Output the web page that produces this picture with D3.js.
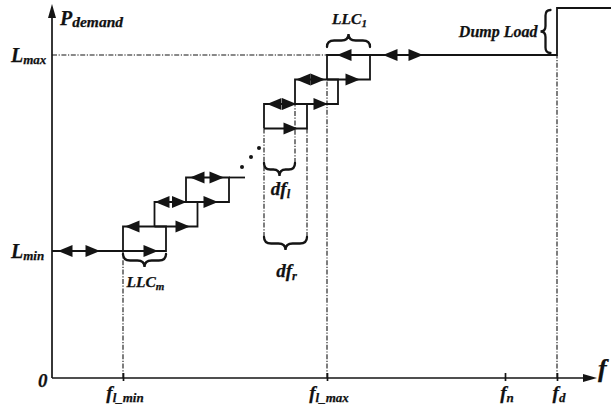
<!DOCTYPE html>
<html>
<head>
<meta charset="utf-8">
<script src="https://cdn.jsdelivr.net/npm/d3@7"></script>
<style>
  html, body { margin: 0; padding: 0; background: #fff; }
  svg { display: block; }
  text { font-family: "Liberation Serif", "Times New Roman", serif; font-weight: bold; font-style: italic; fill: #111; stroke: #111; stroke-width: 0.25px; }
</style>
</head>
<body>
<svg id="chart" width="611" height="410"></svg>
<script>
// ---- data (normalised frequency f, normalised power demand P) ----
const fAxisEnd = 109;          // tip of the frequency axis arrow
const pAxisEnd = 74.8;         // tip of the power axis arrow
const Lmin = 25.4;
const Lmax = 64.6;
const fTicks = [14.2, 55, 90.6, 101];
const fTickSubs = ["l_min", "l_max", "n", "d"];

// hysteresis loops of the load-level controllers (LLC_m ... LLC_1)
const loopStart = [14.2, 20.5, 26.8, 42.4, 48.6, 55.0];
const loopEnd   = [22.8, 29.1, 35.4, 51.0, 57.2, 63.6];
const loopLow   = [25.4, 30.3, 35.2, 49.9, 54.8, 59.7];
const loopHigh  = [30.3, 35.2, 40.1, 54.8, 59.7, 64.6];

// remaining pieces of the demand trace
const traceLead = [[0, 25.4], [14.2, 25.4]];
const traceGap  = [[35.4, 40.1], [38.6, 40.1]];
const traceTop  = [[63.6, 64.6], [101, 64.6], [101, 74], [112, 74]];

// direction arrowheads on the trace (tip position, level, direction)
const arrowF   = [1.2, 9.6, 21.2, 14.6, 27.6, 20.6, 26.9, 33.2, 27.6, 34.4, 49.2, 43.0, 48.9, 55.2, 48.8, 54.6, 61.6, 57.0, 66.2, 74.2];
const arrowP   = [25.4, 25.4, 25.4, 30.3, 30.3, 35.2, 35.2, 35.2, 40.1, 40.1, 49.9, 54.8, 54.8, 54.8, 59.7, 59.7, 59.7, 64.6, 64.6, 64.6];
const arrowDir = [-1, 1, 1, -1, 1, -1, 1, 1, -1, 1, 1, -1, 1, 1, -1, 1, 1, -1, -1, 1];

// dash-dot guide lines (vertical: f, from P0 to P1)
const guideF  = [14.2, 55, 101, 42.4, 51.0, 48.6];
const guideP0 = [0, 0, 0, 28.2, 28.2, 43.0];
const guideP1 = [25.4, 59.7, 64.6, 49.9, 49.9, 54.8];

// ellipsis dots between the lower and upper controllers
const dotF = [38.0, 39.8, 41.4];
const dotP = [42.2, 44.2, 46.0];

// horizontal braces: span, base level, side (+1 above, -1 below)
const braceF0  = [14.2, 55.0, 42.4, 42.4];
const braceF1  = [22.8, 63.6, 48.6, 51.0];
const braceP   = [24.8, 66.2, 43.0, 28.2];
const braceDir = [-1, 1, -1, -1];
const braceMain = ["LLC", "LLC", "df", "df"];
const braceSub  = ["m", "1", "l", "r"];

// dump-load brace (vertical, left of the step)
const dumpF = 99.7;
const dumpP0 = 65.0, dumpP1 = 73.6;

// ---- drawing ----
const svg = d3.select("#chart");
const x = d3.scaleLinear().domain([0, 110]).range([52, 602]);
const y = d3.scaleLinear().domain([0, 74]).range([378, 8]);
const ink = "#141414";
const line = d3.line().x(d => x(d[0])).y(d => y(d[1]));

// dash-dot guides
const dashDot = "5,1.6,1.2,1.6";
svg.append("line")
  .attr("x1", x(0)).attr("x2", x(55)).attr("y1", y(Lmax)).attr("y2", y(Lmax))
  .attr("stroke", ink).attr("stroke-width", 1.1).attr("stroke-dasharray", dashDot);
svg.selectAll("line.guide").data(guideF).join("line")
  .attr("class", "guide")
  .attr("x1", d => x(d)).attr("x2", d => x(d))
  .attr("y1", (d, i) => y(guideP0[i])).attr("y2", (d, i) => y(guideP1[i]))
  .attr("stroke", ink).attr("stroke-width", 1.1).attr("stroke-dasharray", dashDot);

// axes with arrowheads
svg.append("line").attr("x1", x(0)).attr("y1", y(0)).attr("x2", x(0)).attr("y2", y(pAxisEnd) + 10)
  .attr("stroke", ink).attr("stroke-width", 1.7);
svg.append("path")
  .attr("d", `M${x(0)},${y(pAxisEnd)} L${x(0) - 4},${y(pAxisEnd) + 14} L${x(0) + 4},${y(pAxisEnd) + 14} Z`)
  .attr("fill", ink);
svg.append("line").attr("x1", x(0)).attr("y1", y(0)).attr("x2", x(fAxisEnd) - 10).attr("y2", y(0))
  .attr("stroke", ink).attr("stroke-width", 1.7);
svg.append("path")
  .attr("d", `M${x(fAxisEnd)},${y(0)} L${x(fAxisEnd) - 14},${y(0) - 4} L${x(fAxisEnd) - 14},${y(0) + 4} Z`)
  .attr("fill", ink);

// tick marks on the frequency axis
const tickAxis = d3.axisTop(x).tickValues(fTicks).tickSize(8).tickFormat("");
const gTicks = svg.append("g").attr("transform", `translate(0,${y(0) + 3})`).call(tickAxis);
gTicks.select(".domain").remove();
gTicks.selectAll("line").attr("stroke", ink).attr("stroke-width", 1.7);

// hysteresis loops
const loops = svg.append("g").attr("fill", "none").attr("stroke", ink).attr("stroke-width", 1.8);
loopStart.forEach((f0, i) => {
  const f1 = loopEnd[i], p0 = loopLow[i], p1 = loopHigh[i];
  loops.append("path").attr("d", line([[f0, p0], [f1, p0], [f1, p1], [f0, p1], [f0, p0]]));
});
[traceLead, traceGap, traceTop].forEach(t => loops.append("path").attr("d", line(t)));

// arrowheads
const aLen = 14.5, aHalf = 6;
svg.selectAll("path.arrow").data(arrowF).join("path")
  .attr("class", "arrow")
  .attr("d", (d, i) => {
    const tx = x(d), ty = y(arrowP[i]), bx = tx - arrowDir[i] * aLen;
    return `M${tx},${ty} L${bx},${ty - aHalf} L${bx},${ty + aHalf} Z`;
  })
  .attr("fill", ink);

// ellipsis dots
svg.selectAll("circle.dot").data(dotF).join("circle")
  .attr("class", "dot")
  .attr("cx", d => x(d)).attr("cy", (d, i) => y(dotP[i])).attr("r", 2)
  .attr("fill", ink);

// curly brace between two points, bulging to the left of the direction p0->p1
function bracePath(ax, ay, bx, by, h) {
  const L = Math.hypot(bx - ax, by - ay);
  const ux = (bx - ax) / L, uy = (by - ay) / L;
  const nx = -uy, ny = ux;
  const P = (s, t) => `${ax + ux * s + nx * t},${ay + uy * s + ny * t}`;
  const r = Math.min(h * 0.55, L / 5), m = L / 2;
  return `M${P(0, 0)} Q${P(0, h / 2)} ${P(r, h / 2)} L${P(m - r, h / 2)} Q${P(m, h / 2)} ${P(m, h)}` +
         ` Q${P(m, h / 2)} ${P(m + r, h / 2)} L${P(L - r, h / 2)} Q${P(L, h / 2)} ${P(L, 0)}`;
}
const braceDepth = 13;
const braces = svg.append("g").attr("fill", "none").attr("stroke", ink).attr("stroke-width", 2.3).attr("stroke-linecap", "round");
braceF0.forEach((f0, i) => {
  const up = braceDir[i] > 0;
  // orientation chosen so the bulge points away from the base level
  const d = up
    ? bracePath(x(braceF1[i]), y(braceP[i]), x(f0), y(braceP[i]), braceDepth)
    : bracePath(x(f0), y(braceP[i]), x(braceF1[i]), y(braceP[i]), braceDepth);
  braces.append("path").attr("d", d);
});
braces.append("path").attr("d", bracePath(x(dumpF), y(dumpP1), x(dumpF), y(dumpP0), 10));

// text helper with a subscript
function label(px, py, main, sub, size, subSize, anchor, subDy) {
  const t = svg.append("text").attr("x", px).attr("y", py)
    .attr("text-anchor", anchor || "start").style("font-size", size + "px");
  t.append("tspan").text(main);
  if (sub) t.append("tspan").attr("dy", subDy).style("font-size", subSize + "px").text(sub);
  return t;
}

// axis titles and level labels
label(x(0) + 8, y(pAxisEnd) + 21, "P", "demand", 20, 15.5, "start", 2);
label(x(0) - 41, y(Lmax) + 7, "L", "max", 20, 13, "start", 2);
label(x(0) - 41, y(Lmin) + 7, "L", "min", 20, 13, "start", 2);
label(x(0) - 14, y(0) + 9, "0", null, 19, 0, "start", 0);
label(x(fAxisEnd) + 1, y(0) - 1, "f", null, 26, 0, "start", 0);

// frequency tick labels
fTicks.forEach((f, i) => label(x(f) + 2, y(0) + 21, "f", fTickSubs[i], 19, 13, "middle", 3));

// brace labels
const braceLabelY = [y(braceP[0]) + 33, y(braceP[1]) - 23, y(braceP[2]) + 32, y(braceP[3]) + 40];
braceF0.forEach((f0, i) => {
  const cx = (x(f0) + x(braceF1[i])) / 2 + 1;
  const big = braceMain[i] === "df";
  label(cx, braceLabelY[i], braceMain[i], braceSub[i], big ? 19 : 15.5, big ? 12.5 : 11, "middle", 3);
});
label(x(dumpF) - 13, y(dumpP0) - 16, "Dump Load", null, 16, 0, "end", 0);
</script>
</body>
</html>
